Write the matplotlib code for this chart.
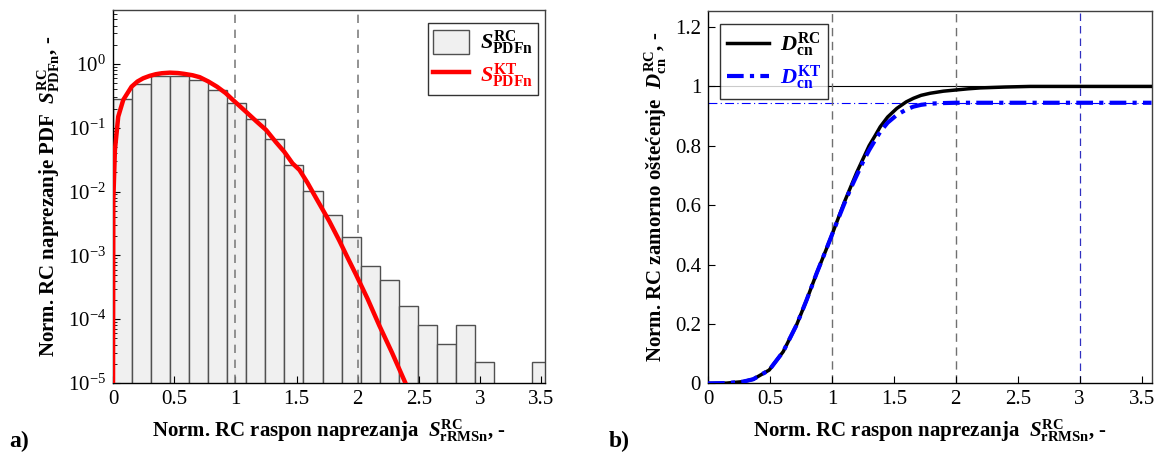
import numpy as np
import matplotlib
matplotlib.use("Agg")
import matplotlib.pyplot as plt

plt.rcParams['font.family'] = 'serif'
plt.rcParams['font.serif'] = ['Liberation Serif', 'DejaVu Serif']
plt.rcParams['mathtext.fontset'] = 'custom'
plt.rcParams['mathtext.rm'] = 'Liberation Serif:bold'
plt.rcParams['mathtext.it'] = 'Liberation Serif:italic:bold'
plt.rcParams['mathtext.bf'] = 'Liberation Serif:bold'

# histogram of normalised rainflow ranges (PDF), bin width ~0.1557
bin_width = 0.1557
hist_pdf = [0.28, 0.486, 0.64, 0.656, 0.561, 0.396, 0.248, 0.136, 0.0667, 0.0258,
            0.0101, 0.00425, 0.00197, 6.75e-4, 4.07e-4, 1.62e-4, 8.0e-5, 4.04e-5,
            8.0e-5, 2.0e-5, 0.0, 0.0, 2.0e-5]

# KT PDF curve
kt_x = [0.0005, 0.003, 0.016, 0.043, 0.084, 0.152, 0.2, 0.247, 0.3, 0.35, 0.4,
        0.465, 0.53, 0.58, 0.65, 0.709, 0.78, 0.85, 0.92, 0.98, 1.04, 1.1, 1.17,
        1.252, 1.33, 1.4, 1.467, 1.524, 1.59, 1.66, 1.769, 1.85, 1.92, 1.986,
        2.08, 2.176, 2.28, 2.39]
kt_y = [1e-5, 0.0074, 0.045, 0.149, 0.273, 0.44, 0.53, 0.596, 0.65, 0.69, 0.715,
        0.73, 0.72, 0.70, 0.665, 0.62, 0.53, 0.44, 0.35, 0.273, 0.215, 0.169, 0.127,
        0.092, 0.06, 0.042, 0.0277, 0.0218, 0.0137, 0.0079, 0.0034, 0.0017, 9.0e-4,
        5.0e-4, 2.1e-4, 8.0e-5, 3.0e-5, 1e-5]

# cumulative fatigue damage curves
dmg_x = [0.0, 0.15, 0.284, 0.365, 0.494, 0.607, 0.715, 0.796, 0.877, 0.952, 1.0,
         1.05, 1.1, 1.15, 1.2, 1.25, 1.3, 1.35, 1.39, 1.45, 1.524, 1.6, 1.658,
         1.72, 1.793, 1.9, 2.0, 2.1, 2.197, 2.4, 2.6, 3.0, 3.58]
d_rc = [0.0, 0.001, 0.006, 0.014, 0.045, 0.107, 0.197, 0.281, 0.371, 0.449, 0.5,
        0.555, 0.61, 0.66, 0.71, 0.755, 0.80, 0.835, 0.864, 0.897, 0.926, 0.948,
        0.96, 0.97, 0.977, 0.984, 0.988, 0.992, 0.995, 0.998, 1.0, 1.0, 1.0]
d_kt = [0.0, 0.001, 0.006, 0.014, 0.045, 0.107, 0.197, 0.281, 0.371, 0.449, 0.5,
        0.553, 0.605, 0.655, 0.70, 0.745, 0.785, 0.82, 0.847, 0.878, 0.904, 0.922,
        0.932, 0.938, 0.942, 0.944, 0.945, 0.945, 0.945, 0.945, 0.945, 0.945, 0.945]
d_kt_max = 0.945

fig = plt.figure(figsize=(11.55, 4.59), dpi=100)

# ---- a) PDF ----
ax1 = fig.add_axes([0.0978, 0.1656, 0.3740, 0.8126])
edges = np.arange(len(hist_pdf)) * bin_width
h = np.array(hist_pdf)
m = h > 0
bars = ax1.bar(edges[m], h[m], width=bin_width, align='edge', bottom=1e-6,
               facecolor='#f0f0f0', edgecolor='#505050', linewidth=1.0, zorder=1)
line_kt, = ax1.plot(kt_x, kt_y, color='red', lw=3.2, zorder=3)
ax1.set_yscale('log')
ax1.set_xlim(0, 3.53)
ax1.set_ylim(1e-5, 7)
for xv in [1, 2]:
    ax1.axvline(xv, color='#808080', ls=(0, (5, 4)), lw=1.2, zorder=2)
ax1.set_xticks([0, 0.5, 1, 1.5, 2, 2.5, 3, 3.5])
ax1.set_xticklabels(['0', '0.5', '1', '1.5', '2', '2.5', '3', '3.5'])
ax1.set_xlabel(r'Norm. RC raspon naprezanja  $S^{\mathbf{RC}}_{\mathbf{rRMSn}}$, -',
               fontsize=15, fontweight='bold', labelpad=6)
ax1.set_ylabel(r'Norm. RC naprezanje PDF  $S^{\mathbf{RC}}_{\mathbf{PDFn}}$, -',
               fontsize=15, fontweight='bold', labelpad=4)
leg1 = ax1.legend([bars, line_kt],
                  [r'$S^{\mathbf{RC}}_{\mathbf{PDFn}}$', r'$S^{\mathbf{KT}}_{\mathbf{PDFn}}$'],
                  loc='upper right', fontsize=16, frameon=True, fancybox=False,
                  edgecolor='black', handlelength=1.6, handleheight=1.3,
                  borderpad=0.25, labelspacing=0.15, handletextpad=0.5,
                  borderaxespad=0.0, bbox_to_anchor=(0.985, 0.965))
leg1.get_frame().set_linewidth(1.0)
leg1.get_texts()[1].set_color('red')

# ---- b) damage ----
ax2 = fig.add_axes([0.6130, 0.1647, 0.3840, 0.8120])
ax2.axhline(1.0, color='black', lw=0.8, zorder=1)
ax2.axhline(d_kt_max, color='blue', lw=0.8, ls=(0, (8, 3, 1, 3)), zorder=1)
for xv in [1, 2]:
    ax2.axvline(xv, color='#707070', ls=(0, (6, 4)), lw=1.0, zorder=1)
ax2.axvline(3, color='#3030c0', ls=(0, (6, 4)), lw=0.9, zorder=1)
ax2.plot(dmg_x, d_rc, color='black', lw=2.5, label=r'$D^{\mathbf{RC}}_{\mathbf{cn}}$', zorder=3)
ax2.plot(dmg_x, d_kt, color='blue', lw=3, ls=(0, (4, 1.5, 1, 1.5)),
         label=r'$D^{\mathbf{KT}}_{\mathbf{cn}}$', zorder=4)
ax2.set_xlim(0, 3.58)
ax2.set_ylim(0, 1.255)
ax2.set_xticks([0, 0.5, 1, 1.5, 2, 2.5, 3, 3.5])
ax2.set_xticklabels(['0', '0.5', '1', '1.5', '2', '2.5', '3', '3.5'])
ax2.set_yticks([0, 0.2, 0.4, 0.6, 0.8, 1.0, 1.2])
ax2.set_yticklabels(['0', '0.2', '0.4', '0.6', '0.8', '1', '1.2'])
ax2.set_xlabel(r'Norm. RC raspon naprezanja  $S^{\mathbf{RC}}_{\mathbf{rRMSn}}$, -',
               fontsize=15, fontweight='bold', labelpad=6)
ax2.set_ylabel(r'Norm. RC zamorno oštećenje  $D^{\mathbf{RC}}_{\mathbf{cn}}$, -',
               fontsize=15, fontweight='bold', labelpad=4)
leg2 = ax2.legend(loc='upper left', fontsize=16, frameon=True, fancybox=False,
                  edgecolor='black', handlelength=1.9, borderpad=0.3,
                  labelspacing=0.25, handletextpad=0.5, borderaxespad=0.0,
                  bbox_to_anchor=(0.027, 0.965))
leg2.get_frame().set_linewidth(1.0)
leg2.get_texts()[1].set_color('blue')

for ax in (ax1, ax2):
    ax.tick_params(direction='in', which='both', labelsize=15, top=False, right=False)
    ax.tick_params(which='major', length=5, pad=5)
    ax.tick_params(which='minor', length=3)
    for s in ax.spines.values():
        s.set_linewidth(1.0)
    ax.spines['top'].set_color('#404040')
    ax.spines['right'].set_color('#404040')

fig.text(0.008, 0.025, 'a)', fontsize=17, fontweight='bold')
fig.text(0.527, 0.025, 'b)', fontsize=17, fontweight='bold')

fig.savefig('out.png', dpi=100)
